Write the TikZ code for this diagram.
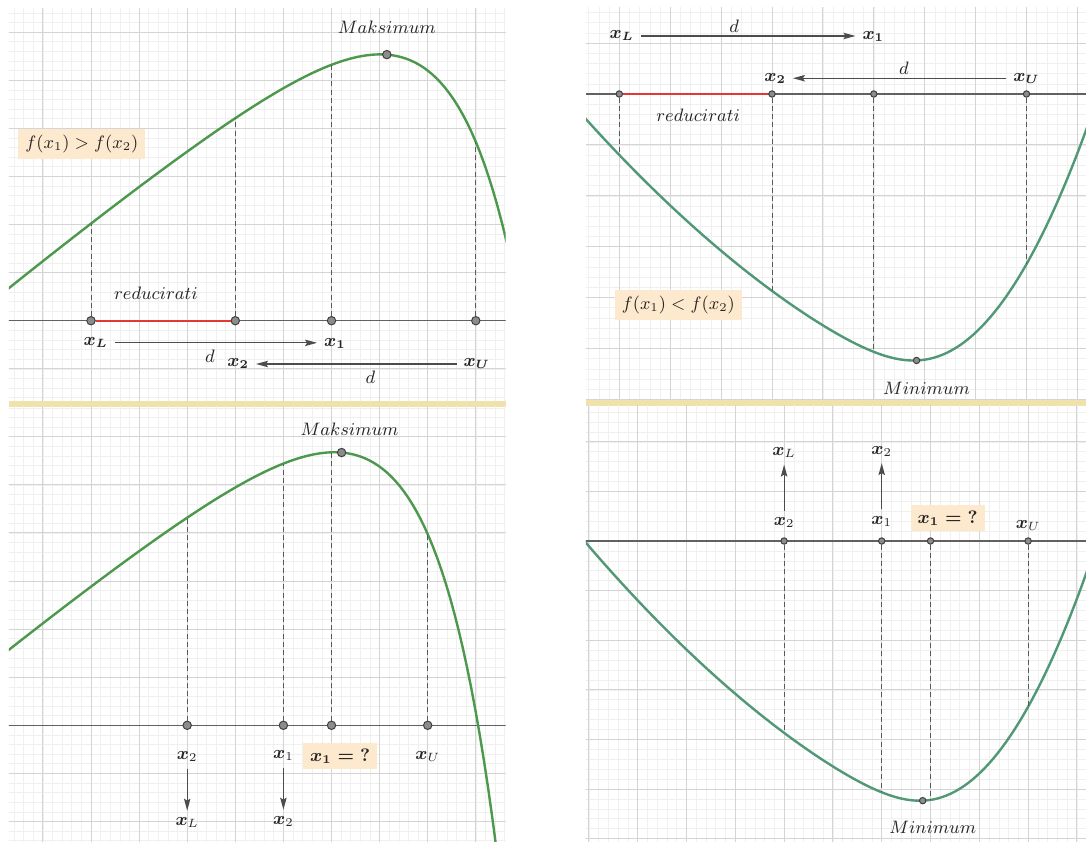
\documentclass[tikz,border=0pt]{standalone}
\usepackage{amsmath}
\usetikzlibrary{arrows.meta,positioning}

\definecolor{maxgreen}{RGB}{76,152,76}
\definecolor{mingreen}{RGB}{80,152,118}
\definecolor{cutred}{RGB}{230,55,55}
\definecolor{bandfill}{RGB}{239,226,170}
\definecolor{notefill}{RGB}{253,234,206}

\begin{document}
\begin{tikzpicture}[
  x=0.5pt, y=-0.5pt,
  declare function={
    fmax(\t)=2.03+0.78*\t-0.0064*\t*\t-0.011117*exp(0.74*\t);
    ramp(\t)=((\t-5.3)+sqrt((\t-5.3)*(\t-5.3)+1.69))/2;
    fmin(\t)=-1.2-1.043*\t+0.05*\t*\t+0.37*ramp(\t)*ramp(\t);
  },
  gridminor/.style={draw=black!6, line width=0.3pt},
  gridmajor/.style={draw=black!17, line width=0.5pt},
  axisline/.style={draw=black!62, line width=0.7pt},
  maxcurve/.style={draw=maxgreen, line width=1.2pt},
  mincurve/.style={draw=mingreen, line width=1.2pt},
  dropline/.style={draw=black!65, line width=0.5pt, dash pattern=on 2.5pt off 1.6pt},
  reduced/.style={draw=cutred, line width=1.2pt},
  pnt/.style={circle, draw=black!75, fill=black!45, line width=0.5pt, inner sep=0pt, minimum size=4.2pt},
  spnt/.style={pnt, minimum size=3.2pt},
  lbl/.style={font=\fontsize{9}{11}\selectfont, text=black!85},
  note/.style={lbl, fill=notefill, inner xsep=3.5pt, inner ysep=3pt},
  arr/.style={draw=black!70, line width=0.6pt, -{Stealth[length=6pt, width=3.2pt, inset=1pt]}},
]
\path[fill=white, use as bounding box] (0,0) rectangle (1086,841);

% top left: maximum, first step
\begin{scope}[shift={(91,320.7)}, x=24.05pt, y=24.05pt]
  \begin{scope}
    \clip (-1.705,-1.67) rectangle (8.62,6.5);
    \draw[gridminor, step=0.2] (-2,-2) grid (9,7);
    \draw[gridmajor, step=1] (-2,-2) grid (9,7);
    \draw[axisline] (-2,0) -- (9,0);
    \draw[maxcurve] plot[domain=-1.8:9, samples=120] (\x,{fmax(\x)});
  \end{scope}
  \fill[bandfill] (-1.705,-1.79) rectangle (8.62,-1.67);

  \node[pnt] (tlxl) at (0,0) {};
  \node[pnt] (tlx2) at (3,0) {};
  \node[pnt] (tlx1) at (5,0) {};
  \node[pnt] (tlxu) at (8,0) {};
  \node[pnt] (tlmax) at (6.15,{fmax(6.15)}) {};
  \coordinate (tlfl) at (0,{fmax(0)});
  \coordinate (tlf2) at (3,{fmax(3)});
  \coordinate (tlf1) at (5,{fmax(5)});
  \coordinate (tlfu) at (8,{fmax(8)});
  \draw[dropline] (tlxl) -- (tlfl);
  \draw[dropline] (tlx2) -- (tlf2);
  \draw[dropline] (tlx1) -- (tlf1);
  \draw[dropline] (tlxu) -- (tlfu);
  \draw[reduced] (tlxl) -- (tlx2);

  \node[lbl] (tlred) at (1.35,0.58) {$reducirati$};
  \node[lbl, above=4.5pt of tlmax] (tlmaxl) {$Maksimum$};
  \node[note] (tlcmp) at (-0.19,3.68) {$f(x_1) > f(x_2)$};

  \node[lbl] (tllxl) at (0.10,-0.46) {$\boldsymbol{x_L}$};
  \node[lbl] (tllx1) at (5.07,-0.48) {$\boldsymbol{x_1}$};
  \node[lbl] (tllx2) at (3.06,-0.90) {$\boldsymbol{x_2}$};
  \node[lbl] (tllxu) at (8.02,-0.90) {$\boldsymbol{x_U}$};
  \draw[arr] (tllxl.east) -- (tllxl.east -| tllx1.west) node[lbl, below, pos=0.47] (tld1) {$d$};
  \draw[arr] (tllxu.west) -- (tllxu.west -| tllx2.east) node[lbl, below, pos=0.43] (tld2) {$d$};
\end{scope}

% top right: minimum, first step
\begin{scope}[shift={(619.3,94)}, x=25.45pt, y=25.45pt]
  \begin{scope}
    \clip (-0.654,-6.01) rectangle (9.17,1.69);
    \draw[gridminor, step=0.2] (-1,-7) grid (10,2);
    \draw[gridmajor, step=1] (-1,-7) grid (10,2);
    \draw[axisline] (-1,0) -- (10,0);
    \draw[mincurve] plot[domain=-0.7:9.3, samples=120] (\x,{fmin(\x)});
  \end{scope}
  \fill[bandfill] (-0.654,-6.12) rectangle (9.17,-6.01);

  \node[spnt] (trxl) at (0,0) {};
  \node[spnt] (trx2) at (3,0) {};
  \node[spnt] (trx1) at (5,0) {};
  \node[spnt] (trxu) at (8,0) {};
  \node[spnt] (trmin) at (5.84,{fmin(5.84)}) {};
  \coordinate (trfl) at (0,{fmin(0)});
  \coordinate (trf2) at (3,{fmin(3)});
  \coordinate (trf1) at (5,{fmin(5)});
  \coordinate (trfu) at (8,{fmin(8)});
  \draw[dropline] (trxl) -- (trfl);
  \draw[dropline] (trx2) -- (trf2);
  \draw[dropline] (trx1) -- (trf1);
  \draw[dropline] (trxu) -- (trfu);
  \draw[reduced] (trxl) -- (trx2);

  \node[lbl] (trred) at (1.55,-0.41) {$reducirati$};
  \node[lbl, below=5.3pt of trmin, xshift=5pt] (trminl) {$Minimum$};
  \node[note] (trcmp) at (1.16,-4.15) {$f(x_1) < f(x_2)$};

  \node[lbl] (trlxl) at (0.047,1.14) {$\boldsymbol{x_L}$};
  \node[lbl] (trlx1) at (4.99,1.12) {$\boldsymbol{x_1}$};
  \node[lbl] (trlx2) at (3.06,0.31) {$\boldsymbol{x_2}$};
  \node[lbl] (trlxu) at (8.0,0.31) {$\boldsymbol{x_U}$};
  \draw[arr] (trlxl.east) -- (trlxl.east -| trlx1.west) node[lbl, above=-2pt, pos=0.435] (trd1) {$d$};
  \draw[arr] (trlxu.west) -- (trlxu.west -| trlx2.east) node[lbl, above=-2pt, pos=0.48] (trd2) {$d$};
\end{scope}

% bottom left: maximum, next step
\begin{scope}[shift={(91,725.3)}, x=24.05pt, y=24.05pt]
  \begin{scope}
    \clip (-1.705,-2.41) rectangle (8.62,6.62);
    \draw[gridminor, step=0.2] (-2,-3) grid (9,7);
    \draw[gridmajor, step=1] (-2,-3) grid (9,7);
    \draw[axisline] (-2,0) -- (9,0);
    \draw[maxcurve] plot[domain=-1.8:8.7, samples=120] (\x,{fmax(\x+0.95)+0.14});
  \end{scope}

  \node[pnt] (blx2) at (2,0) {};
  \node[pnt] (blx1) at (4,0) {};
  \node[pnt] (blxn) at (5,0) {};
  \node[pnt] (blxu) at (7,0) {};
  \node[pnt] (blmax) at (5.21,{fmax(6.16)+0.14}) {};
  \coordinate (blf2) at (2,{fmax(2.95)+0.14});
  \coordinate (blf1) at (4,{fmax(4.95)+0.14});
  \coordinate (blfn) at (5,{fmax(5.95)+0.14});
  \coordinate (blfu) at (7,{fmax(7.95)+0.14});
  \draw[dropline] (blx2) -- (blf2);
  \draw[dropline] (blx1) -- (blf1);
  \draw[dropline] (blxn) -- (blfn);
  \draw[dropline] (blxu) -- (blfu);

  \node[lbl, above=2.7pt of blmax, xshift=4pt] (blmaxl) {$Maksimum$};
  \node[note] (blq) at (5.18,-0.634) {$\boldsymbol{x_1 = {?}}$};

  \node[lbl] (bllx2) at (2,-0.65) {$\boldsymbol{x}_2$};
  \node[lbl] (bllx1) at (4,-0.63) {$\boldsymbol{x}_1$};
  \node[lbl] (bllxu) at (7,-0.64) {$\boldsymbol{x}_U$};
  \node[lbl, below=21pt of bllx2] (bllxl) {$\boldsymbol{x}_L$};
  \node[lbl, below=21pt of bllx1] (bllx2n) {$\boldsymbol{x}_2$};
  \draw[arr] (bllx2) -- (bllxl);
  \draw[arr] (bllx1) -- (bllx2n);
\end{scope}

% bottom right: minimum, next step
\begin{scope}[shift={(637.7,541)}, x=24.4pt, y=24.8pt]
  \begin{scope}
    \clip (-1.06,-6.05) rectangle (9.19,2.74);
    \draw[gridminor, step=0.2] (-2,-7) grid (10,3);
    \draw[gridmajor, step=1] (-2,-7) grid (10,3);
    \draw[axisline] (-2,0) -- (10,0);
    \draw[mincurve] plot[domain=-1.1:9.3, samples=120] (\x,{fmin(\x)});
  \end{scope}

  \node[spnt] (brx2) at (3,0) {};
  \node[spnt] (brx1) at (5,0) {};
  \node[spnt] (brxn) at (6,0) {};
  \node[spnt] (brxu) at (8,0) {};
  \node[spnt] (brmin) at (5.84,{fmin(5.84)}) {};
  \coordinate (brf2) at (3,{fmin(3)});
  \coordinate (brf1) at (5,{fmin(5)});
  \coordinate (brfn) at (6,{fmin(6)});
  \coordinate (brfu) at (8,{fmin(8)});
  \draw[dropline] (brx2) -- (brf2);
  \draw[dropline] (brx1) -- (brf1);
  \draw[dropline] (brxn) -- (brfn);
  \draw[dropline] (brxu) -- (brfu);

  \node[lbl, below=5pt of brmin, xshift=5pt] (brminl) {$Minimum$};
  \node[note] (brq) at (6.35,0.46) {$\boldsymbol{x_1 = {?}}$};

  \node[lbl] (brlx2) at (3,0.37) {$\boldsymbol{x}_2$};
  \node[lbl] (brlx1) at (5,0.40) {$\boldsymbol{x}_1$};
  \node[lbl] (brlxu) at (8,0.32) {$\boldsymbol{x}_U$};
  \node[lbl, above=23pt of brlx2] (brlxl) {$\boldsymbol{x}_L$};
  \node[lbl, above=23pt of brlx1] (brlx2n) {$\boldsymbol{x}_2$};
  \draw[arr] (brlx2) -- (brlxl);
  \draw[arr] (brlx1) -- (brlx2n);
\end{scope}

\end{tikzpicture}
\end{document}
